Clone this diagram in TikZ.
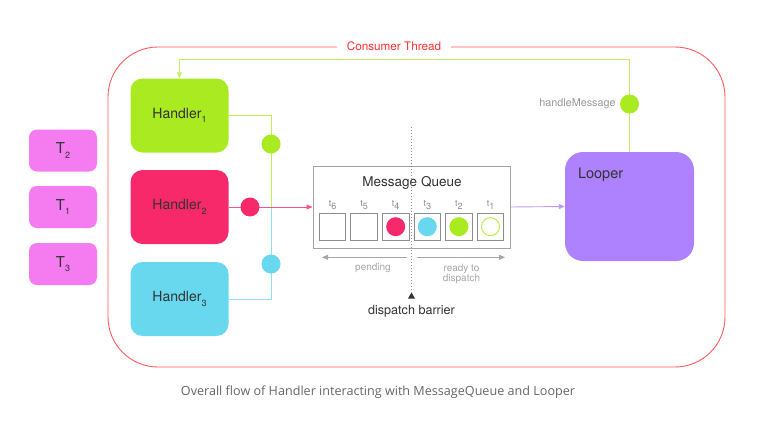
\documentclass[tikz,border=0pt]{standalone}
\usepackage{fontspec}
\setsansfont{TeX Gyre Heros}
\newfontfamily\capfont{Open Sans}
\usetikzlibrary{arrows.meta}
\usetikzlibrary{positioning}
\usetikzlibrary{shapes.geometric}
\definecolor{threadred}{HTML}{FF5C5C}
\definecolor{titlered}{HTML}{FF3030}
\definecolor{tpink}{HTML}{F57CF0}
\definecolor{hgreen}{HTML}{A9EA21}
\definecolor{hred}{HTML}{F7296B}
\definecolor{hcyan}{HTML}{67D8EE}
\definecolor{lpurple}{HTML}{AE82FF}
\definecolor{qgray}{HTML}{8C8C8C}
\definecolor{ngray}{HTML}{A6A6A6}
\definecolor{txt}{HTML}{333333}
\newcommand{\fs}[1]{\fontsize{#1}{#1}\selectfont}
\newcommand{\idx}[1]{\raisebox{-0.6ex}{\fs{9}#1}}
\tikzset{tbox/.style = {fill=tpink, rounded corners=8, minimum width=68, minimum height=42, text=txt, font=\sffamily\fs{15}}}
\tikzset{hbox/.style = {rounded corners=12, minimum width=98, minimum height=74, text=txt, font=\sffamily\fs{14}}}
\tikzset{dot/.style = {circle, inner sep=0, minimum size=19}}
\tikzset{slot/.style = {draw=qgray, line width=0.9pt, inner sep=0, minimum size=26.5}}
\tikzset{tlabel/.style = {inner sep=0, text=qgray, font=\sffamily\fs{9}}}
\tikzset{note/.style = {inner sep=0, text=ngray, font=\sffamily\fs{10}}}
\tikzset{tip/.style = {-{Triangle[length=6pt, width=5pt]}}}

\begin{document}
\begin{tikzpicture}[x=1pt, y=-1pt]
  \useasboundingbox (0,0) rectangle (760,426);

  % consumer thread frame
  \node [draw=threadred, line width=0.9pt, rounded corners=50, minimum width=617, minimum height=320] (ct) at (416.5,207) {};
  \node [fill=white, inner xsep=10, text=titlered, font=\sffamily\fs{11.7}] (cttitle) at (394,46.7) {Consumer Thread};

  % threads
  \node [tbox] (t2) at (63,150.5) {T\idx{2}};
  \node [tbox] (t1) at (63,207) {T\idx{1}};
  \node [tbox] (t3) at (63,264) {T\idx{3}};

  % handlers
  \node [hbox, fill=hgreen] (h1) at (179.5,115.5) {Handler\idx{1}};
  \node [hbox, fill=hred] (h2) at (179.5,207) {Handler\idx{2}};
  \node [hbox, fill=hcyan] (h3) at (179.5,299) {Handler\idx{3}};

  % message queue
  \node [draw=qgray!80, line width=1pt, minimum width=197, minimum height=82] (mq) at (411.5,207) {};
  \node [text=txt, font=\sffamily\fs{13.5}] (mqtitle) at (412,183) {Message Queue};
  \foreach \t [count=\k from 0] in {6,5,4,3,2,1} {
    \node [slot] (s\t) at (332.5+31.6*\k,226.7) {};
    \node [tlabel, above=3pt of s\t] (l\t) {t\idx{\t}};
  }
  \node [dot, fill=hred] at (s4) {};
  \node [dot, fill=hcyan] at (s3) {};
  \node [dot, fill=hgreen] at (s2) {};
  \node [dot, draw=hgreen!80, line width=1pt, minimum size=18] at (s1) {};

  % looper
  \node [fill=lpurple, rounded corners=18, minimum width=129, minimum height=109] (looper) at (629.5,206.5) {};
  \node [inner sep=0, text=txt, font=\sffamily\fs{14.5}, below right=16pt and 13pt of looper.north west] (lname) {Looper};

  % handlers into the queue
  \coordinate (join) at (271,207);
  \draw [hgreen!75, line width=0.9pt] (h1.east) -| (join);
  \draw [hcyan!75, line width=0.9pt] (h3.east) -| (join);
  \draw [hred!80, line width=0.9pt, tip] (h2.east) -- (mq.west);
  \node [dot, fill=hgreen] (d1) at (271,144) {};
  \node [dot, fill=hred] (d2) at (250,207) {};
  \node [dot, fill=hcyan] (d3) at (271,264) {};

  % queue to looper and back
  \draw [lpurple!80, line width=0.9pt, tip] (mq.east) -- (looper.west);
  \coordinate (ret) at (629.5,59);
  \draw [hgreen!70, line width=0.9pt, tip] (looper.north) -- (ret) -| (h1.north);
  \node [dot, fill=hgreen, label={[note, text=qgray!90, font=\sffamily\fs{10.8}, xshift=-4pt]left:handleMessage}] (hm) at (629.5,104) {};

  % dispatch barrier
  \node [regular polygon, regular polygon sides=3, fill=txt, inner sep=0, minimum size=8.2] (bar) at (411.5,296.5) {};
  \coordinate (bartop) at (411.5,127);
  \draw [qgray, line width=0.8pt, dash pattern=on 1pt off 2pt] (bartop) -- (bar.north);
  \node [inner sep=0, text=txt, font=\sffamily\fs{12.6}, below=6pt of bar] (barname) {dispatch barrier};

  % pending / ready
  \coordinate (pr) at (407,257.3);
  \coordinate (pl) at (322,257.3);
  \coordinate (rl) at (417,257.3);
  \coordinate (rr) at (505,257.3);
  \draw [ngray, line width=0.9pt, tip] (pr) -- (pl);
  \draw [ngray, line width=0.9pt, tip] (rl) -- (rr);
  \node [note] (pending) at (373,268) {pending};
  \node [note, align=center] (ready) at (461.5,273.5) {ready to\\dispatch};

  % caption
  \node [text=txt!75, font=\capfont\fs{12.6}] (caption) at (378,392) {Overall flow of Handler interacting with MessageQueue and Looper};
\end{tikzpicture}
\end{document}
